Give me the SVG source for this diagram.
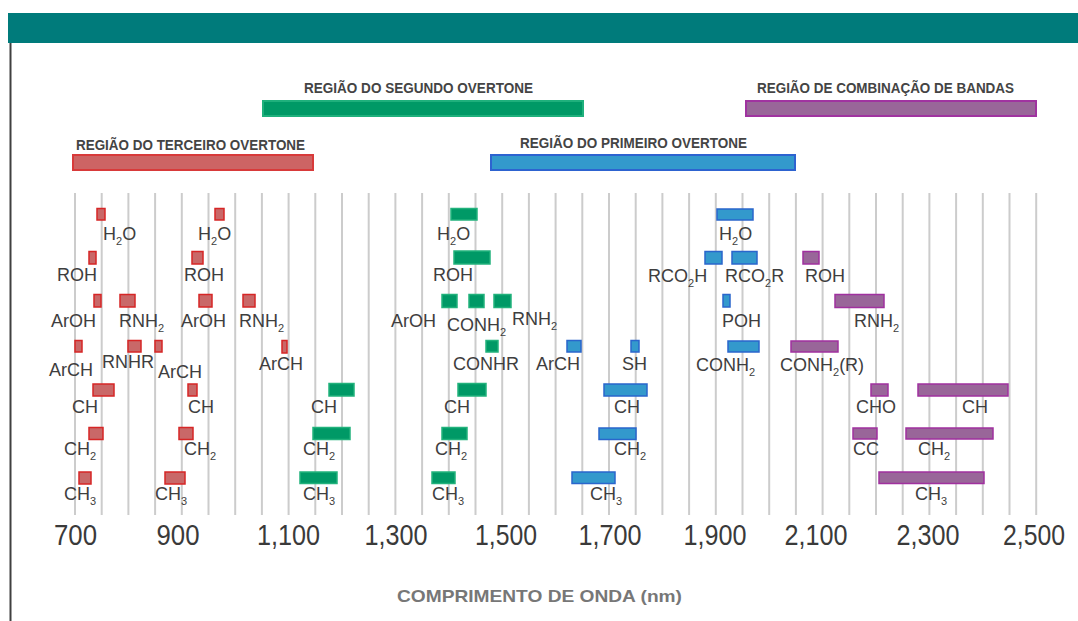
<svg xmlns="http://www.w3.org/2000/svg" width="1078" height="621" viewBox="0 0 1078 621">
<defs>
<style>
.lbl{font-family:"Liberation Sans",Arial,sans-serif;font-size:18px;fill:#3e3e3e}
.sub{font-size:11px}
.reg{font-family:"Liberation Sans",Arial,sans-serif;font-size:14px;font-weight:bold;fill:#444}
.ax{font-family:"Liberation Sans",Arial,sans-serif;font-size:29px;fill:#3a3a3a;text-anchor:middle}
.ttl{font-family:"Liberation Sans",Arial,sans-serif;font-size:17px;font-weight:bold;fill:#777}
.grid line{stroke:#cccccc;stroke-width:2}
.r{fill:#c96868;stroke:#d62626;stroke-width:1.5}
.g{fill:#009966;stroke:#22b27c;stroke-width:1.5}
.b{fill:#3399cc;stroke:#2a66cc;stroke-width:1.5}
.p{fill:#996699;stroke:#a0309f;stroke-width:1.5}
.rr{fill:#cd6464;stroke:#d83a3a;stroke-width:2}
.rg{fill:#009966;stroke:#1fb07c;stroke-width:2}
.rb{fill:#3399cc;stroke:#2d63d0;stroke-width:2}
.rp{fill:#996699;stroke:#a033a0;stroke-width:2}
</style>
</defs>
<rect width="1078" height="621" fill="#ffffff"/>
<rect x="8" y="13" width="1070" height="30" fill="#007b7b"/>
<line x1="10.5" y1="43" x2="10.5" y2="621" stroke="#404040" stroke-width="2"/>

<g class="grid">
<line x1="75" y1="193" x2="75" y2="515"/><line x1="101.7" y1="193" x2="101.7" y2="515"/><line x1="128.4" y1="193" x2="128.4" y2="515"/><line x1="155.1" y1="193" x2="155.1" y2="515"/><line x1="181.8" y1="193" x2="181.8" y2="515"/><line x1="208.5" y1="193" x2="208.5" y2="515"/><line x1="235.2" y1="193" x2="235.2" y2="515"/><line x1="261.9" y1="193" x2="261.9" y2="515"/><line x1="288.6" y1="193" x2="288.6" y2="515"/><line x1="315.3" y1="193" x2="315.3" y2="515"/><line x1="342" y1="193" x2="342" y2="515"/><line x1="368.7" y1="193" x2="368.7" y2="515"/><line x1="395.4" y1="193" x2="395.4" y2="515"/><line x1="422.1" y1="193" x2="422.1" y2="515"/><line x1="448.8" y1="193" x2="448.8" y2="515"/><line x1="475.5" y1="193" x2="475.5" y2="515"/><line x1="502.2" y1="193" x2="502.2" y2="515"/><line x1="528.9" y1="193" x2="528.9" y2="515"/><line x1="555.6" y1="193" x2="555.6" y2="515"/><line x1="582.3" y1="193" x2="582.3" y2="515"/><line x1="609" y1="193" x2="609" y2="515"/><line x1="635.7" y1="193" x2="635.7" y2="515"/><line x1="662.4" y1="193" x2="662.4" y2="515"/><line x1="689.1" y1="193" x2="689.1" y2="515"/><line x1="715.8" y1="193" x2="715.8" y2="515"/><line x1="742.5" y1="193" x2="742.5" y2="515"/><line x1="769.2" y1="193" x2="769.2" y2="515"/><line x1="795.9" y1="193" x2="795.9" y2="515"/><line x1="822.6" y1="193" x2="822.6" y2="515"/><line x1="849.3" y1="193" x2="849.3" y2="515"/><line x1="876" y1="193" x2="876" y2="515"/><line x1="902.7" y1="193" x2="902.7" y2="515"/><line x1="929.4" y1="193" x2="929.4" y2="515"/><line x1="956.1" y1="193" x2="956.1" y2="515"/><line x1="982.8" y1="193" x2="982.8" y2="515"/><line x1="1009.5" y1="193" x2="1009.5" y2="515"/><line x1="1036.2" y1="193" x2="1036.2" y2="515"/>
</g>

<g id="regions">
<g id="reg-segundo"><rect class="rg" x="263" y="101" width="320" height="15"/><text class="reg" x="304" y="93" textLength="229" lengthAdjust="spacingAndGlyphs">REGIÃO DO SEGUNDO OVERTONE</text></g>
<g id="reg-combinacao"><rect class="rp" x="746" y="101" width="290" height="15"/><text class="reg" x="757" y="93" textLength="257" lengthAdjust="spacingAndGlyphs">REGIÃO DE COMBINAÇÃO DE BANDAS</text></g>
<g id="reg-terceiro"><rect class="rr" x="73" y="155" width="240" height="15"/><text class="reg" x="76" y="150" textLength="229" lengthAdjust="spacingAndGlyphs">REGIÃO DO TERCEIRO OVERTONE</text></g>
<g id="reg-primeiro"><rect class="rb" x="491" y="155" width="304" height="15"/><text class="reg" x="520" y="148" textLength="227" lengthAdjust="spacingAndGlyphs">REGIÃO DO PRIMEIRO OVERTONE</text></g>
</g>

<g id="bands-terceiro">
<g id="t-h2o-1"><rect class="r" x="97" y="208.5" width="8" height="11.5"/><text class="lbl" x="103" y="240">H<tspan class="sub" dy="5">2</tspan><tspan dy="-5">O</tspan></text></g>
<g id="t-h2o-2"><rect class="r" x="215" y="208.5" width="9" height="11.5"/><text class="lbl" x="198" y="240">H<tspan class="sub" dy="5">2</tspan><tspan dy="-5">O</tspan></text></g>
<g id="t-roh-1"><rect class="r" x="89" y="251.5" width="7" height="12.5"/><text class="lbl" x="57" y="281">ROH</text></g>
<g id="t-roh-2"><rect class="r" x="192" y="251.5" width="11" height="12.5"/><text class="lbl" x="184" y="281">ROH</text></g>
<g id="t-aroh-1"><rect class="r" x="94" y="294.5" width="7" height="12.5"/><text class="lbl" x="51" y="327">ArOH</text></g>
<g id="t-rnh2-1"><rect class="r" x="120" y="294.5" width="15" height="12.5"/><text class="lbl" x="119" y="327">RNH<tspan class="sub" dy="5">2</tspan></text></g>
<g id="t-aroh-2"><rect class="r" x="199" y="294.5" width="13" height="12.5"/><text class="lbl" x="181" y="327">ArOH</text></g>
<g id="t-rnh2-2"><rect class="r" x="243" y="294.5" width="12" height="12.5"/><text class="lbl" x="239" y="327">RNH<tspan class="sub" dy="5">2</tspan></text></g>
<g id="t-arch-1"><rect class="r" x="75" y="340.5" width="7" height="11.5"/><text class="lbl" x="49" y="376">ArCH</text></g>
<g id="t-rnhr"><rect class="r" x="128" y="340.5" width="13" height="11.5"/><text class="lbl" x="102" y="368">RNHR</text></g>
<g id="t-arch-2"><rect class="r" x="155" y="340.5" width="7" height="11.5"/><text class="lbl" x="158" y="378">ArCH</text></g>
<g id="t-arch-3"><rect class="r" x="282" y="340.5" width="5" height="12.5"/><text class="lbl" x="259" y="370">ArCH</text></g>
<g id="t-ch-1"><rect class="r" x="93" y="384" width="21" height="12"/><text class="lbl" x="72" y="413">CH</text></g>
<g id="t-ch-2"><rect class="r" x="188" y="384" width="9" height="12"/><text class="lbl" x="188" y="413">CH</text></g>
<g id="t-ch2-1"><rect class="r" x="89" y="427.5" width="14" height="12"/><text class="lbl" x="64" y="455">CH<tspan class="sub" dy="5">2</tspan></text></g>
<g id="t-ch2-2"><rect class="r" x="179" y="427.5" width="14" height="12"/><text class="lbl" x="184" y="455">CH<tspan class="sub" dy="5">2</tspan></text></g>
<g id="t-ch3-1"><rect class="r" x="79" y="472" width="12" height="12"/><text class="lbl" x="64" y="500">CH<tspan class="sub" dy="5">3</tspan></text></g>
<g id="t-ch3-2"><rect class="r" x="165" y="472" width="20" height="12"/><text class="lbl" x="155" y="500">CH<tspan class="sub" dy="5">3</tspan></text></g>
</g>

<g id="bands-segundo">
<g id="s-h2o"><rect class="g" x="451" y="208.5" width="26" height="11.5"/><text class="lbl" x="437" y="240">H<tspan class="sub" dy="5">2</tspan><tspan dy="-5">O</tspan></text></g>
<g id="s-roh"><rect class="g" x="454" y="251" width="36" height="13"/><text class="lbl" x="433" y="281">ROH</text></g>
<g id="s-aroh"><rect class="g" x="442" y="294.5" width="15" height="13"/><text class="lbl" x="391" y="327">ArOH</text></g>
<g id="s-conh2"><rect class="g" x="469" y="294.5" width="15" height="13"/><text class="lbl" x="447" y="331">CONH<tspan class="sub" dy="5">2</tspan></text></g>
<g id="s-rnh2"><rect class="g" x="494" y="294.5" width="17" height="13"/><text class="lbl" x="512" y="325">RNH<tspan class="sub" dy="5">2</tspan></text></g>
<g id="s-conhr"><rect class="g" x="486" y="340.5" width="12" height="11.5"/><text class="lbl" x="453" y="370">CONHR</text></g>
<g id="s-ch-1"><rect class="g" x="329" y="383.5" width="25" height="12.5"/><text class="lbl" x="311" y="413">CH</text></g>
<g id="s-ch-2"><rect class="g" x="458" y="383.5" width="28" height="12.5"/><text class="lbl" x="444" y="413">CH</text></g>
<g id="s-ch2-1"><rect class="g" x="313" y="427.5" width="37" height="12"/><text class="lbl" x="303" y="455">CH<tspan class="sub" dy="5">2</tspan></text></g>
<g id="s-ch2-2"><rect class="g" x="442" y="427.5" width="25" height="12"/><text class="lbl" x="435" y="455">CH<tspan class="sub" dy="5">2</tspan></text></g>
<g id="s-ch3-1"><rect class="g" x="300" y="472" width="37" height="11.5"/><text class="lbl" x="303" y="500">CH<tspan class="sub" dy="5">3</tspan></text></g>
<g id="s-ch3-2"><rect class="g" x="432" y="472" width="23" height="11.5"/><text class="lbl" x="432" y="500">CH<tspan class="sub" dy="5">3</tspan></text></g>
</g>

<g id="bands-primeiro">
<g id="p-h2o"><rect class="b" x="717" y="209" width="36" height="11"/><text class="lbl" x="719" y="240">H<tspan class="sub" dy="5">2</tspan><tspan dy="-5">O</tspan></text></g>
<g id="p-rco2h"><rect class="b" x="705" y="251.5" width="17" height="12.5"/><text class="lbl" x="648" y="282">RCO<tspan class="sub" dy="5">2</tspan><tspan dy="-5">H</tspan></text></g>
<g id="p-rco2r"><rect class="b" x="732" y="251.5" width="25" height="12.5"/><text class="lbl" x="725" y="282">RCO<tspan class="sub" dy="5">2</tspan><tspan dy="-5">R</tspan></text></g>
<g id="p-poh"><rect class="b" x="723" y="294.5" width="7" height="12.5"/><text class="lbl" x="722" y="327">POH</text></g>
<g id="p-arch"><rect class="b" x="567" y="340.5" width="14" height="11.5"/><text class="lbl" x="536" y="370">ArCH</text></g>
<g id="p-sh"><rect class="b" x="631" y="340.5" width="8" height="11.5"/><text class="lbl" x="622" y="370">SH</text></g>
<g id="p-conh2"><rect class="b" x="728" y="341" width="31" height="11"/><text class="lbl" x="696" y="371">CONH<tspan class="sub" dy="5">2</tspan></text></g>
<g id="p-ch"><rect class="b" x="604" y="384" width="43" height="12"/><text class="lbl" x="614" y="413">CH</text></g>
<g id="p-ch2"><rect class="b" x="599" y="428" width="37" height="11.5"/><text class="lbl" x="614" y="455">CH<tspan class="sub" dy="5">2</tspan></text></g>
<g id="p-ch3"><rect class="b" x="572" y="472" width="43" height="11.5"/><text class="lbl" x="590" y="500">CH<tspan class="sub" dy="5">3</tspan></text></g>
</g>

<g id="bands-combinacao">
<g id="c-roh"><rect class="p" x="803" y="251.5" width="16" height="12.5"/><text class="lbl" x="805" y="282">ROH</text></g>
<g id="c-rnh2"><rect class="p" x="835" y="294.5" width="49" height="13"/><text class="lbl" x="854" y="327">RNH<tspan class="sub" dy="5">2</tspan></text></g>
<g id="c-conh2r"><rect class="p" x="791" y="341" width="47" height="11"/><text class="lbl" x="780" y="371">CONH<tspan class="sub" dy="5">2</tspan><tspan dy="-5">(R)</tspan></text></g>
<g id="c-cho"><rect class="p" x="871" y="384" width="17" height="12"/><text class="lbl" x="856" y="413">CHO</text></g>
<g id="c-ch"><rect class="p" x="918" y="384" width="90" height="12"/><text class="lbl" x="962" y="413">CH</text></g>
<g id="c-cc"><rect class="p" x="853" y="428" width="24" height="11"/><text class="lbl" x="853" y="455">CC</text></g>
<g id="c-ch2"><rect class="p" x="906" y="428" width="87" height="11"/><text class="lbl" x="918" y="455">CH<tspan class="sub" dy="5">2</tspan></text></g>
<g id="c-ch3"><rect class="p" x="879" y="472" width="105" height="11.5"/><text class="lbl" x="915" y="500">CH<tspan class="sub" dy="5">3</tspan></text></g>
</g>

<g id="axis">
<text class="ax" x="75.5" y="545" textLength="43" lengthAdjust="spacingAndGlyphs">700</text>
<text class="ax" x="178" y="545" textLength="43" lengthAdjust="spacingAndGlyphs">900</text>
<text class="ax" x="288.6" y="545" textLength="63" lengthAdjust="spacingAndGlyphs">1,100</text>
<text class="ax" x="396" y="545" textLength="63" lengthAdjust="spacingAndGlyphs">1,300</text>
<text class="ax" x="506" y="545" textLength="62" lengthAdjust="spacingAndGlyphs">1,500</text>
<text class="ax" x="610" y="545" textLength="63" lengthAdjust="spacingAndGlyphs">1,700</text>
<text class="ax" x="715" y="545" textLength="63" lengthAdjust="spacingAndGlyphs">1,900</text>
<text class="ax" x="816" y="545" textLength="63" lengthAdjust="spacingAndGlyphs">2,100</text>
<text class="ax" x="928" y="545" textLength="63" lengthAdjust="spacingAndGlyphs">2,300</text>
<text class="ax" x="1034" y="545" textLength="62" lengthAdjust="spacingAndGlyphs">2,500</text>
<text class="ttl" x="397" y="602" textLength="285" lengthAdjust="spacingAndGlyphs">COMPRIMENTO DE ONDA (nm)</text>
</g>
</svg>
